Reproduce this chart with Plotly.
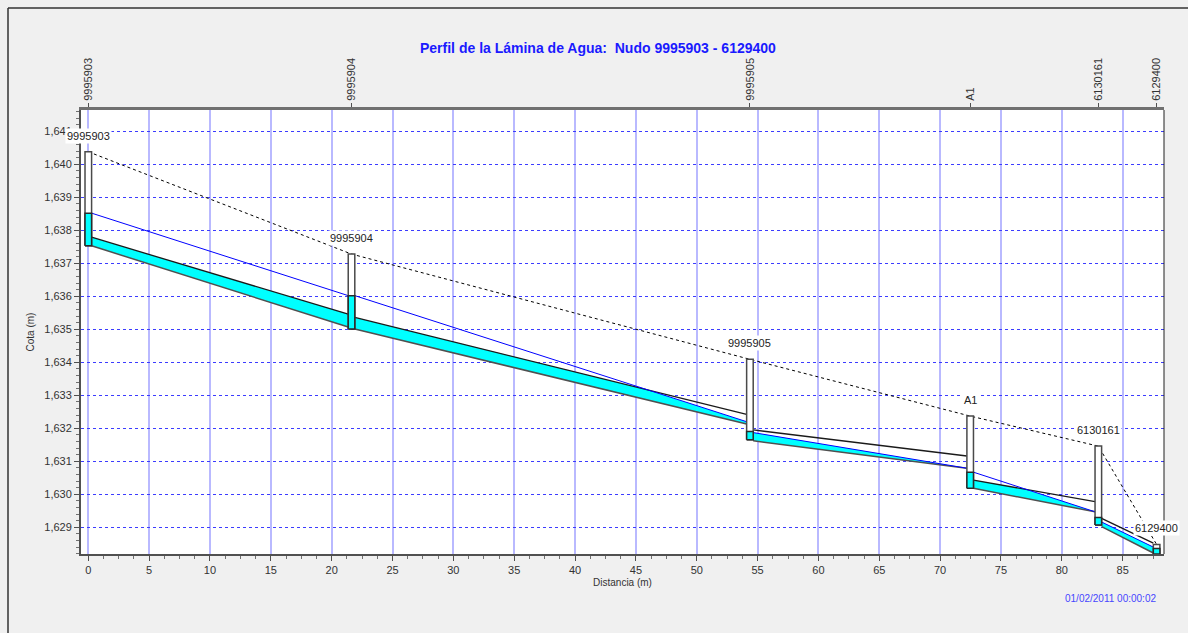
import plotly.graph_objects as go

# ---------------- data ----------------
node_names = ["9995903", "9995904", "9995905", "A1", "6130161", "6129400"]
node_x = [0.0, 21.63, 54.37, 72.47, 83.0, 87.79]
node_ground = [1.64038, 1.63728, 1.63409, 1.63237, 1.63146, 1.62848]
node_water = [1.63852, 1.63602, 1.63190, 1.63067, 1.62930, 1.62836]
node_invert = [1.63753, 1.63501, 1.63165, 1.63018, 1.62907, 1.62819]

pipe_inv_up = [1.63753, 1.63501, 1.63162, 1.63018, 1.62902]
pipe_inv_dn = [1.63507, 1.63213, 1.63079, 1.62947, 1.62822]
pipe_crown_up = [1.63779, 1.63536, 1.63195, 1.63043, 1.62927]
pipe_crown_dn = [1.63546, 1.63242, 1.63116, 1.62978, 1.62852]
pipe_hgl_up = [1.63852, 1.63602, 1.63187, 1.63067, 1.62916]
pipe_hgl_dn = [1.63602, 1.63220, 1.63079, 1.62947, 1.62840]

title_text = "Perfil de la Lámina de Agua:  Nudo 9995903 - 6129400"
date_text = "01/02/2011 00:00:02"

# ---------------- layout constants ----------------
W, H = 1188, 633
L, R, T, B = 81, 1164, 110, 554
HALF = 0.27  # half width of node boxes (x units)
FONT = "Liberation Sans, Arial, sans-serif"
CYAN = "#00ffff"

def px_x(p):
    return (p - L) / (R - L)

def px_y(p):
    return (B - p) / (B - T)

fig = go.Figure()

# pipes
for i in range(len(pipe_inv_up)):
    x0 = node_x[i] + HALF
    x1 = node_x[i + 1] - HALF
    xs = [x0]
    d0 = pipe_hgl_up[i] - pipe_crown_up[i]
    d1 = pipe_hgl_dn[i] - pipe_crown_dn[i]
    if d0 * d1 < 0:
        f = d0 / (d0 - d1)
        xs.append(x0 + f * (x1 - x0))
    xs.append(x1)

    def lin(a, b, xv):
        return a + (b - a) * (xv - x0) / (x1 - x0)

    upper = [min(lin(pipe_hgl_up[i], pipe_hgl_dn[i], xv), lin(pipe_crown_up[i], pipe_crown_dn[i], xv)) for xv in xs]
    lower = [lin(pipe_inv_up[i], pipe_inv_dn[i], xv) for xv in xs]
    fig.add_trace(go.Scatter(x=xs + xs[::-1], y=upper + lower[::-1], mode="lines",
                             fill="toself", fillcolor=CYAN, line=dict(width=0),
                             hoverinfo="skip", showlegend=False))
    fig.add_trace(go.Scatter(x=[x0, x1], y=[pipe_inv_up[i], pipe_inv_dn[i]], mode="lines",
                             line=dict(color="#505050", width=1.5), hoverinfo="skip", showlegend=False))
    fig.add_trace(go.Scatter(x=[x0, x1], y=[pipe_crown_up[i], pipe_crown_dn[i]], mode="lines",
                             line=dict(color="#1a1a1a", width=1.3), hoverinfo="skip", showlegend=False))
    fig.add_trace(go.Scatter(x=[x0, x1], y=[pipe_hgl_up[i], pipe_hgl_dn[i]], mode="lines",
                             line=dict(color="#0000ff", width=1), hoverinfo="skip", showlegend=False))

# ground line (dashed)
fig.add_trace(go.Scatter(x=node_x, y=node_ground, mode="lines",
                         line=dict(color="black", width=1, dash="3px,3px"),
                         hoverinfo="skip", showlegend=False))

# node boxes
for i, nx in enumerate(node_x):
    bx = [nx - HALF, nx + HALF, nx + HALF, nx - HALF, nx - HALF]
    fig.add_trace(go.Scatter(x=bx, y=[node_invert[i], node_invert[i], node_ground[i], node_ground[i], node_invert[i]],
                             mode="lines", fill="toself", fillcolor="white",
                             line=dict(color="#4a4a4a", width=1.5), hoverinfo="skip", showlegend=False))
    fig.add_trace(go.Scatter(x=bx, y=[node_invert[i], node_invert[i], node_water[i], node_water[i], node_invert[i]],
                             mode="lines", fill="toself", fillcolor=CYAN,
                             line=dict(color="#2a2a2a", width=1.5), hoverinfo="skip", showlegend=False))
    fig.add_annotation(x=nx, y=node_ground[i], text=node_names[i], showarrow=False,
                       yanchor="middle", yshift=16, bgcolor="white", borderpad=1,
                       font=dict(family=FONT, size=11, color="#222222"))

# invisible trace for top axis
fig.add_trace(go.Scatter(x=[node_x[0]], y=[node_ground[0]], xaxis="x2", mode="markers",
                         marker=dict(opacity=0), hoverinfo="skip", showlegend=False))

xr = [(L - 88.3) / 12.169, (R - 88.3) / 12.169]
yr = [1.640 - (B - 164.3) / 33000, 1.640 + (164.3 - T) / 33000]

fig.update_layout(
    width=W, height=H,
    margin=dict(l=L, r=W - R, t=T, b=H - B),
    paper_bgcolor="#f0f0f0", plot_bgcolor="white",
    separators=",.",
    font=dict(family=FONT, size=11, color="#333333"),
    showlegend=False,
    xaxis=dict(range=xr, dtick=5, tick0=0, showgrid=True, gridcolor="rgba(100,100,255,0.45)", gridwidth=1.5,
               zeroline=False, showline=True, linecolor="#505050", linewidth=2,
               ticks="outside", ticklen=5, tickcolor="#505050",
               minor=dict(dtick=1.25, ticks="outside", ticklen=3, tickcolor="#707070", showgrid=False),
               tickfont=dict(size=11, color="#333333"),
               title=dict(text="Distancia (m)", font=dict(size=10, color="#333333"), standoff=4)),
    xaxis2=dict(range=xr, overlaying="x", side="top", anchor="y", tickmode="array", tickvals=node_x,
                ticktext=node_names, tickangle=-90, ticks="outside", ticklen=4, tickcolor="#505050",
                showgrid=False, zeroline=False, showline=True, linecolor="#707070", linewidth=3,
                tickfont=dict(size=11, color="#333333")),
    yaxis=dict(range=yr, dtick=0.001, tick0=1.629, tickformat=".3f", showgrid=True,
               gridcolor="#3c3cff", griddash="dot", gridwidth=1, zeroline=False,
               showline=True, linecolor="#505050", linewidth=2, ticks="outside", ticklen=5, tickcolor="#505050",
               minor=dict(dtick=0.0002, ticks="outside", ticklen=3, tickcolor="#707070", showgrid=False),
               tickfont=dict(size=11, color="#333333"),
               title=dict(text="Cota (m)", font=dict(size=10, color="#333333"), standoff=8)),
)

# right frame line & outer border
fig.add_shape(type="line", xref="paper", yref="paper", x0=1, x1=1, y0=0, y1=1,
              line=dict(color="#202020", width=1))
fig.add_shape(type="line", xref="paper", yref="paper", x0=px_x(8), x1=px_x(1200), y0=px_y(8), y1=px_y(8),
              line=dict(color="#333333", width=1.5))
fig.add_shape(type="line", xref="paper", yref="paper", x0=px_x(8), x1=px_x(8), y0=px_y(8), y1=px_y(650),
              line=dict(color="#333333", width=1.5))

fig.add_annotation(xref="paper", yref="paper", x=px_x(598), y=px_y(48), text=title_text, showarrow=False,
                   xanchor="center", yanchor="middle",
                   font=dict(family=FONT, size=14, color="#1a1aff", weight="bold"))
fig.add_annotation(xref="paper", yref="paper", x=px_x(1158), y=px_y(598), text=date_text, showarrow=False,
                   xanchor="right", yanchor="middle",
                   font=dict(family=FONT, size=10, color="#4646ff"))

fig.write_html("out.html", config={"displayModeBar": False},
               post_script="document.body.style.margin='0';document.body.style.overflow='hidden';")
